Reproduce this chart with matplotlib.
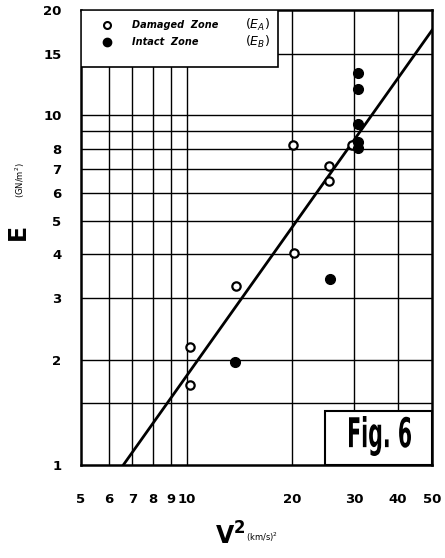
import matplotlib
matplotlib.use("Agg")
import matplotlib.pyplot as plt
from matplotlib.patches import Rectangle, PathPatch
from matplotlib.textpath import TextPath
from matplotlib.font_manager import FontProperties
from matplotlib.transforms import Affine2D, IdentityTransform

# Data
damaged_x = [20.1, 25.4, 25.4, 20.2, 13.8, 10.2, 10.2, 29.6]
damaged_y = [8.22, 7.16, 6.49, 4.03, 3.24, 2.18, 1.69, 8.2]
intact_x = [30.8, 30.8, 30.8, 30.8, 30.8, 13.7, 25.6]
intact_y = [13.2, 11.9, 9.44, 8.41, 8.08, 1.97, 3.40]
fit_x = [6.6, 50.0]
fit_y = [1.0, 17.5]

x_grid = [6, 7, 8, 9, 10, 20, 30, 40]
y_grid = [1.5, 2, 3, 4, 5, 6, 7, 8, 9, 10, 15]
x_ticks = [5, 6, 7, 8, 9, 10, 20, 30, 40, 50]
x_ticklabels = ["5", "6", "7", "8", "9", "10", "20", "30", "40", "50"]
y_ticks = [1, 2, 3, 4, 5, 6, 7, 8, 10, 15, 20]
y_ticklabels = ["1", "2", "3", "4", "5", "6", "7", "8", "10", "15", "20"]

W, H = 445, 558
fig = plt.figure(figsize=(W / 100, H / 100), dpi=100)
L, R, T, B = 81, 432, 10, 465
ax = fig.add_axes([L / W, 1 - B / H, (R - L) / W, (B - T) / H])
ax.set_xscale("log")
ax.set_yscale("log")
ax.set_xlim(5, 50)
ax.set_ylim(1, 20)

for gx in x_grid:
    ax.axvline(gx, color="black", lw=1.0, zorder=1)
for gy in y_grid:
    ax.axhline(gy, color="black", lw=1.0, zorder=1)

ax.plot(fit_x, fit_y, color="black", lw=2.0, zorder=3)
ax.plot(damaged_x, damaged_y, "o", ms=6, mfc="white", mec="black", mew=1.6, zorder=4)
ax.plot(intact_x, intact_y, "o", ms=7, mfc="black", mec="black", zorder=4)

ax.minorticks_off()
ax.set_xticks(x_ticks)
ax.set_xticklabels(x_ticklabels)
ax.set_yticks(y_ticks)
ax.set_yticklabels(y_ticklabels)
ax.tick_params(which="both", length=0)
ax.tick_params(axis="x", pad=20)
ax.tick_params(axis="y", pad=14)
for lab in ax.get_xticklabels() + ax.get_yticklabels():
    lab.set_fontweight("heavy")
    lab.set_fontsize(9.5)
for s in ax.spines.values():
    s.set_linewidth(1.8)

# Legend box (manual)
lw_, lh_ = (278 - L) / (R - L), (67 - T) / (B - T)
ax.add_patch(Rectangle((0, 1 - lh_), lw_, lh_, transform=ax.transAxes,
                       facecolor="white", edgecolor="black", lw=1.2, zorder=5))
def ax_xy(px, py):
    return ((px - L) / (R - L), (B - py) / (B - T))
mx, my1 = ax_xy(107, 25)
_, my2 = ax_xy(107, 42)
ax.plot([mx], [my1], "o", ms=5, mfc="white", mec="black", mew=1.5,
        transform=ax.transAxes, zorder=6)
ax.plot([mx], [my2], "o", ms=6, mfc="black", mec="black",
        transform=ax.transAxes, zorder=6)
tx, _ = ax_xy(132, 0)
ax.text(tx, my1, r"Damaged  Zone", transform=ax.transAxes, fontsize=7,
        fontweight="heavy", style="italic", va="center", zorder=6)
ax.text(tx, my2, r"Intact  Zone", transform=ax.transAxes, fontsize=7,
        fontweight="heavy", style="italic", va="center", zorder=6)
ex, _ = ax_xy(245, 0)
ax.text(ex, my1, r"$(E_{A})$", transform=ax.transAxes, fontsize=9,
        va="center", zorder=6)
ax.text(ex, my2, r"$(E_{B})$", transform=ax.transAxes, fontsize=9,
        va="center", zorder=6)

# Fig. 6 box
fx0, fy0 = ax_xy(325, 465)
fx1, fy1 = ax_xy(432, 411)
ax.add_patch(Rectangle((fx0, fy0), fx1 - fx0, fy1 - fy0, transform=ax.transAxes,
                       facecolor="white", edgecolor="black", lw=1.5, zorder=5))
tp = TextPath((0, 0), "Fig. 6", size=30,
              prop=FontProperties(family="DejaVu Sans", weight="bold"))
bb = tp.get_extents()
tw, th = 62.0, 40.0
tr = (Affine2D().translate(-bb.x0, -bb.y0)
      .scale(tw / bb.width, th / bb.height)
      .translate(349, H - 456))
fig.add_artist(PathPatch(tr.transform_path(tp), transform=IdentityTransform(),
                         facecolor="black", edgecolor="none", zorder=10))

# Axis labels
fig.text(18 / W, 1 - 232 / H, "E", rotation=90, fontsize=17, fontweight="heavy",
         ha="center", va="center")
fig.text(20 / W, 1 - 180 / H, r"$(\mathrm{GN/m^2})$", rotation=90, fontsize=6,
         ha="center", va="center")
fig.text(246 / W, 1 - 536 / H, r"$\mathbf{V}^{\mathbf{2}}$", fontsize=17,
         ha="right", va="center")
fig.text(246 / W, 1 - 537 / H, r"$(\mathrm{km/s})^{2}$", fontsize=6,
         ha="left", va="center")

fig.savefig("out.png", dpi=100)
